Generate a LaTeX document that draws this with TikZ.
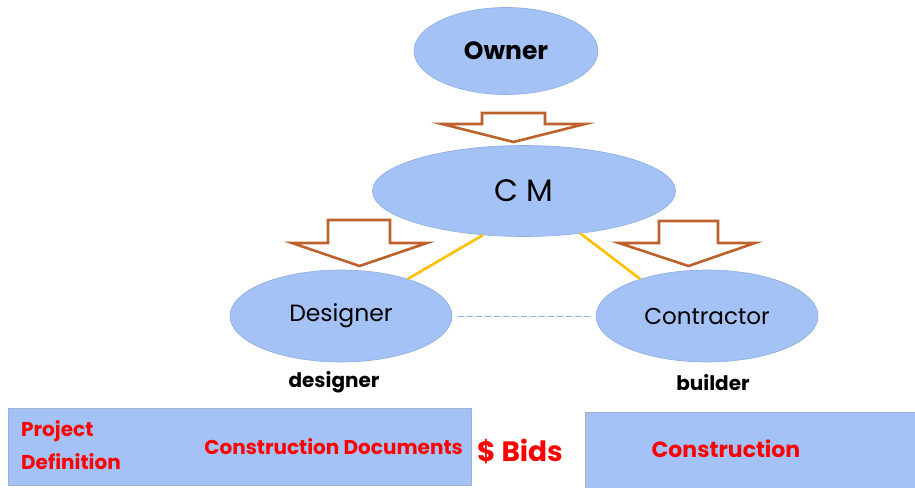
\documentclass[tikz,border=0pt]{standalone}
\usepackage{fontspec}
\setmainfont{Poppins}
\usetikzlibrary{shapes.geometric}
\definecolor{ellfill}{RGB}{164,194,246}
\definecolor{ellline}{RGB}{140,172,225}
\definecolor{boxline}{RGB}{160,178,205}
\definecolor{arrowbrown}{RGB}{190,98,45}
\definecolor{linkyellow}{RGB}{255,192,0}
\definecolor{dashblue}{RGB}{140,178,226}
\definecolor{txtred}{RGB}{255,0,0}
\tikzset{
  party/.style={ellipse, fill=ellfill, draw=ellline, line width=0.6pt, inner sep=0pt},
  hollowarrow/.style={draw=arrowbrown, fill=white, line width=2.6pt, line join=miter},
  link/.style={draw=linkyellow, line width=2.6pt},
  dashlink/.style={draw=dashblue, line width=0.8pt, dashed, dash pattern=on 6pt off 3pt},
  phasebox/.style={fill=ellfill, draw=boxline, line width=0.8pt},
  rolelabel/.style={font=\bfseries\fontsize{20}{24}\selectfont, text=black},
  redlabel/.style={font=\bfseries\fontsize{20}{24}\selectfont, text=txtred, inner sep=0pt}
}
\begin{document}
\begin{tikzpicture}[x=1pt,y=-1pt]
\useasboundingbox (0,0) rectangle (915,487);
% ellipses
\node[party, minimum width=184pt, minimum height=87pt, font=\bfseries\fontsize{25}{29}\selectfont] (owner) at (506,51) {Owner};
\node[party, minimum width=303pt, minimum height=91pt, font=\fontsize{31}{35}\selectfont] (cm) at (524,191) {C\hspace{8pt}M};
\node[party, minimum width=222pt, minimum height=92pt, font=\fontsize{23.5}{27}\selectfont] (designer) at (341,316) {Designer};
\node[party, minimum width=222pt, minimum height=92pt, font=\fontsize{23}{27}\selectfont] (contractor) at (707,316) {Contractor};
% hollow arrows
\path[hollowarrow] (482,113) -- (545,113) -- (545,124) -- (585,124) -- (513.5,142) -- (442,124) -- (482,124) -- cycle;
\path[hollowarrow] (328,220) -- (390,220) -- (390,243) -- (427,243) -- (359.5,266) -- (292,243) -- (328,243) -- cycle;
\path[hollowarrow] (659,221) -- (718,221) -- (718,243) -- (755,243) -- (688.5,266) -- (619,243) -- (659,243) -- cycle;
% links
\draw[link] (cm.227) -- (designer.29);
\draw[link] (cm.323) -- (contractor.151);
\draw[dashlink, shorten <=6pt, shorten >=6pt] (designer.east) -- (contractor.west);
% role labels
\node[rolelabel] (deslabel) at (334,382) {designer};
\node[rolelabel] (buildlabel) at (713,383) {builder};
% phase boxes
\node[phasebox, minimum width=463pt, minimum height=77pt, anchor=north west] (leftbox) at (8,408) {};
\node[phasebox, minimum width=340pt, minimum height=76pt, anchor=north west] (rightbox) at (585,412) {};
\node[redlabel, align=left, anchor=west, font=\bfseries\fontsize{20}{33}\selectfont] (projdef) at (21,445) {Project\\Definition};
\node[redlabel, anchor=east] (cdocs) at (463,447) {Construction Documents};
\node[redlabel, font=\bfseries\fontsize{28}{32}\selectfont] (bids) at (520,451) {\$ Bids};
\node[redlabel, font=\bfseries\fontsize{22}{26}\selectfont] (constr) at (726,449) {Construction};
\end{tikzpicture}
\end{document}
